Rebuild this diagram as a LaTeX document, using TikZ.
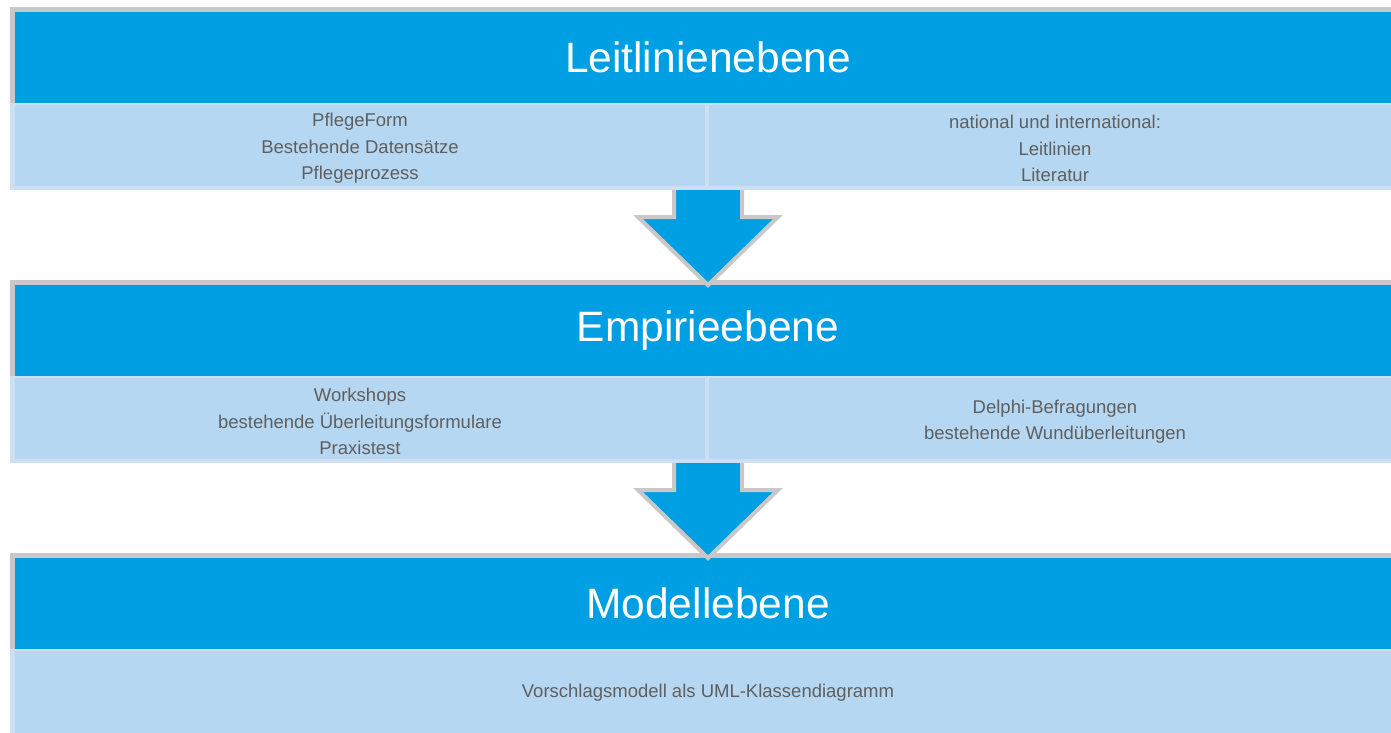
\documentclass[tikz,border=0pt]{standalone}
\usepackage{fontspec}
\setmainfont{Liberation Sans}
\definecolor{hdrblue}{HTML}{009FE3}
\definecolor{cellblue}{HTML}{B5D7F2}
\definecolor{paleedge}{HTML}{CEDFF3}
\definecolor{framegray}{HTML}{C8C8C8}
\definecolor{txtgray}{HTML}{5F5F5F}
\begin{document}
\begin{tikzpicture}[x=1pt,y=-1pt,
  header/.style={fill=hdrblue, text=white, font=\fontsize{42.5}{50}\selectfont,
    inner sep=0pt, outer sep=0pt, minimum width=1386pt, minimum height=91pt, anchor=north west},
  cellbox/.style={fill=cellblue, inner sep=0pt, outer sep=0pt, minimum height=81pt, anchor=north west},
  celltext/.style={text=txtgray, font=\fontsize{18.5}{26.5}\selectfont, align=center, inner sep=0pt},
  arrowfill/.style={fill=hdrblue},
  arrowedge/.style={draw=framegray, line width=4pt, line join=miter},
  grayframe/.style={fill=framegray},
  paleframe/.style={fill=paleedge}]
\useasboundingbox (0,0) rectangle (1391,732);
\clip (0,0) rectangle (1391,732);
% panel 1
\fill[grayframe] (10,7) rectangle (1406,103);
\node[header] (h1) at (15,12) {Leitlinienebene};
\fill[paleframe] (10,103) rectangle (1406,190);
\node[cellbox, minimum width=690pt] (c1l) at (15,105) {};
\node[cellbox, minimum width=692pt] (c1r) at (709,105) {};
\node[celltext, yshift=-3pt] (t1l) at (c1l.center) {PflegeForm\\Bestehende Datensätze\\Pflegeprozess};
\node[celltext, yshift=-3pt] (t1r) at (c1r.center) {national und international:\\Leitlinien\\Literatur};
% panel 2
\fill[grayframe] (10,280) rectangle (1406,376);
\node[header] (h2) at (15,285) {Empirieebene};
\fill[paleframe] (10,376) rectangle (1406,463);
\node[cellbox, minimum width=690pt] (c2l) at (15,378) {};
\node[cellbox, minimum width=692pt] (c2r) at (709,378) {};
\node[celltext, yshift=-3pt] (t2l) at (c2l.center) {Workshops\\bestehende Überleitungsformulare\\Praxistest};
\node[celltext, yshift=-3pt] (t2r) at (c2r.center) {Delphi-Befragungen\\bestehende Wundüberleitungen};
% panel 3
\fill[grayframe] (10,553) rectangle (1406,649);
\node[header] (h3) at (15,558) {Modellebene};
\fill[paleframe] (10,649) rectangle (1406,740);
\node[cellbox, minimum width=1386pt, minimum height=86pt] (c3) at (15,651) {};
\node[celltext, yshift=1pt] (t3) at (c3.center) {Vorschlagsmodell als UML-Klassendiagramm};
% arrows
\fill[arrowfill] (674,190) -- (674,217) -- (638,217) -- (708,285) -- (778,217) -- (742,217) -- (742,190) -- cycle;
\draw[arrowedge] (674,190) -- (674,217) -- (638,217) -- (708,285) -- (778,217) -- (742,217) -- (742,190);
\fill[arrowfill] (674,463) -- (674,490) -- (638,490) -- (708,558) -- (778,490) -- (742,490) -- (742,463) -- cycle;
\draw[arrowedge] (674,463) -- (674,490) -- (638,490) -- (708,558) -- (778,490) -- (742,490) -- (742,463);
\end{tikzpicture}
\end{document}
